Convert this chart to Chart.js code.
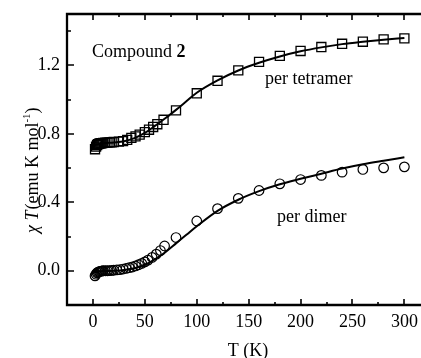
<!DOCTYPE html>
<html>
<head>
<meta charset="utf-8">
<script src="https://cdn.jsdelivr.net/npm/chart.js@4/dist/chart.umd.min.js"></script>
<style>
  html, body { margin: 0; padding: 0; background: #fff; overflow: hidden; }
  canvas { display: block; }
</style>
</head>
<body>
<canvas id="chiT" width="421" height="358"></canvas>
<script>
// Datos
const tetraT = [2, 3, 4, 5, 6, 7, 8, 9, 10, 12, 14, 16, 18, 20, 25, 29, 33, 37, 41, 45, 50, 54, 58, 62, 68, 80,
    100, 120, 140, 160, 180, 200, 220, 240, 260, 280, 300];
const tetraChiT = [0.71, 0.725, 0.735, 0.74, 0.742, 0.744, 0.745, 0.746, 0.747, 0.748, 0.749, 0.75, 0.751, 0.752,
    0.754, 0.757, 0.765, 0.776, 0.785, 0.795, 0.81, 0.824, 0.84, 0.856, 0.882, 0.937,
    1.037, 1.11, 1.171, 1.22, 1.255, 1.284, 1.307, 1.326, 1.338, 1.352, 1.358];

const dimerT = [2, 3, 4, 5, 6, 7, 8, 9, 10, 12, 14, 16, 18, 20, 23, 26, 29, 32, 35, 38, 41, 44, 47, 50, 53, 57,
    61, 65, 69, 80, 100, 120, 140, 160, 180, 200, 220, 240, 260, 280, 300];
const dimerChiT = [-0.03, -0.02, -0.012, -0.008, -0.005, -0.003, -0.002, -0.001, 0, 0, 0, 0.001, 0.002, 0.003,
    0.005, 0.007, 0.01, 0.014, 0.018, 0.022, 0.028, 0.035, 0.043, 0.052, 0.062, 0.078,
    0.097, 0.118, 0.145, 0.194, 0.291, 0.363, 0.423, 0.469, 0.508, 0.533, 0.557, 0.576, 0.592, 0.601, 0.607];

const fitT = [2, 10, 20, 30, 40, 50, 60, 70, 80, 90, 100, 120, 140, 160, 180, 200, 220, 240, 260, 280, 300];
const tetraFit = [0.735, 0.745, 0.75, 0.757, 0.775, 0.805, 0.848, 0.892, 0.94, 0.99, 1.04, 1.112, 1.17, 1.215,
    1.252, 1.282, 1.305, 1.324, 1.338, 1.35, 1.36];
const dimerFit = [-0.01, -0.002, 0.0, 0.005, 0.015, 0.035, 0.068, 0.11, 0.16, 0.21, 0.26, 0.35, 0.415, 0.465,
    0.505, 0.537, 0.567, 0.597, 0.622, 0.643, 0.663];

const xTicks = [0, 50, 100, 150, 200, 250, 300];
const xMinorTicks = [25, 75, 125, 175, 225, 275];
const yTicks = [0.0, 0.4, 0.8, 1.2];
const yMinorTicks = [0.2, 0.6, 1.0, 1.4];

const SERIF = '"Liberation Serif", "Times New Roman", serif';

function toPoints(xs, ys) {
    return xs.map((x, i) => ({ x: x, y: ys[i] }));
}

// Quitar el relleno automatico de las escalas
function noPadding(s) {
    s.paddingTop = 0;
    s.paddingBottom = 0;
    s.paddingLeft = 0;
    s.paddingRight = 0;
}

// Marco, ticks hacia dentro y textos
const framePlugin = {
    id: 'frame',
    afterDraw(chart) {
        const ctx = chart.ctx;
        const a = chart.chartArea;
        const sx = chart.scales.x;
        const sy = chart.scales.y;
        ctx.save();
        ctx.strokeStyle = '#000';
        ctx.lineWidth = 2.3;
        ctx.beginPath();
        ctx.moveTo(chart.width + 2, a.top);
        ctx.lineTo(a.left, a.top);
        ctx.lineTo(a.left, a.bottom);
        ctx.lineTo(chart.width + 2, a.bottom);
        ctx.stroke();

        ctx.lineWidth = 1.6;
        ctx.beginPath();
        const xt = (vals, len) => vals.forEach(v => {
            const px = Math.round(sx.getPixelForValue(v));
            ctx.moveTo(px, a.bottom);
            ctx.lineTo(px, a.bottom - len);
            ctx.moveTo(px, a.top);
            ctx.lineTo(px, a.top + len);
        });
        xt(xTicks, 6);
        xt(xMinorTicks, 3);
        const yt = (vals, len) => vals.forEach(v => {
            const py = Math.round(sy.getPixelForValue(v));
            ctx.moveTo(a.left, py);
            ctx.lineTo(a.left + len, py);
        });
        yt(yTicks, 7);
        yt(yMinorTicks, 4);
        ctx.stroke();

        ctx.fillStyle = '#000';
        ctx.textBaseline = 'alphabetic';
        ctx.textAlign = 'left';

        // Compound 2
        ctx.font = '18px ' + SERIF;
        ctx.fillText('Compound ', 92, 57);
        const w = ctx.measureText('Compound ').width;
        ctx.font = 'bold 18px ' + SERIF;
        ctx.fillText('2', 92 + w, 57);

        ctx.font = '18px ' + SERIF;
        ctx.fillText('per tetramer', 265, 84);
        ctx.fillText('per dimer', 277, 222);

        // Titulo eje X
        ctx.textAlign = 'center';
        ctx.fillText('T (K)', 248, 356);

        // Titulo eje Y (rotado)
        ctx.translate(38, 233);
        ctx.rotate(-Math.PI / 2);
        ctx.textAlign = 'left';
        let x = 0;
        ctx.font = 'italic 18px ' + SERIF;
        ctx.fillText('\u03C7 T', x, 0);
        x += ctx.measureText('\u03C7 T').width + 1;
        ctx.font = '18px ' + SERIF;
        ctx.fillText('(emu K mol', x, 0);
        x += ctx.measureText('(emu K mol').width;
        ctx.font = '11px ' + SERIF;
        ctx.fillText('-1', x, -8);
        x += ctx.measureText('-1').width;
        ctx.font = '18px ' + SERIF;
        ctx.fillText(')', x, 0);
        ctx.restore();
    }
};

const ctx = document.getElementById('chiT').getContext('2d');
const chart = new Chart(ctx, {
    type: 'scatter',
    data: {
        datasets: [
            {
                label: 'per tetramer',
                data: toPoints(tetraT, tetraChiT),
                pointStyle: 'rect',
                pointRadius: 6.4,
                borderColor: '#000',
                backgroundColor: 'rgba(0,0,0,0)',
                borderWidth: 1.3
            },
            {
                label: 'per dimer',
                data: toPoints(dimerT, dimerChiT),
                pointStyle: 'circle',
                pointRadius: 4.8,
                borderColor: '#000',
                backgroundColor: 'rgba(0,0,0,0)',
                borderWidth: 1.2
            },
            {
                label: 'fit tetramer',
                data: toPoints(fitT, tetraFit),
                showLine: true,
                pointRadius: 0,
                borderColor: '#000',
                borderWidth: 2,
                cubicInterpolationMode: 'monotone'
            },
            {
                label: 'fit dimer',
                data: toPoints(fitT, dimerFit),
                showLine: true,
                pointRadius: 0,
                borderColor: '#000',
                borderWidth: 2,
                cubicInterpolationMode: 'monotone'
            }
        ]
    },
    options: {
        responsive: false,
        animation: false,
        layout: { autoPadding: false, padding: { top: 14, right: 0, left: 0, bottom: 0 } },
        plugins: {
            legend: { display: false },
            tooltip: { enabled: false }
        },
        scales: {
            x: {
                type: 'linear',
                min: -25,
                max: 316,
                grid: { display: false, drawTicks: false },
                border: { display: false },
                afterBuildTicks: s => { s.ticks = xTicks.map(v => ({ value: v })); },
                afterFit: s => { s.height = 53; noPadding(s); },
                ticks: {
                    autoSkip: false,
                    maxRotation: 0,
                    padding: 6,
                    color: '#000',
                    font: { family: SERIF, size: 18 }
                }
            },
            y: {
                min: -0.2,
                max: 1.5,
                grid: { display: false, drawTicks: false },
                border: { display: false },
                afterBuildTicks: s => { s.ticks = yTicks.map(v => ({ value: v })); },
                afterFit: s => { s.width = 67; noPadding(s); },
                ticks: {
                    padding: 7,
                    color: '#000',
                    font: { family: SERIF, size: 18 },
                    callback: v => v.toFixed(1)
                }
            }
        }
    },
    plugins: [framePlugin]
});
</script>
</body>
</html>
